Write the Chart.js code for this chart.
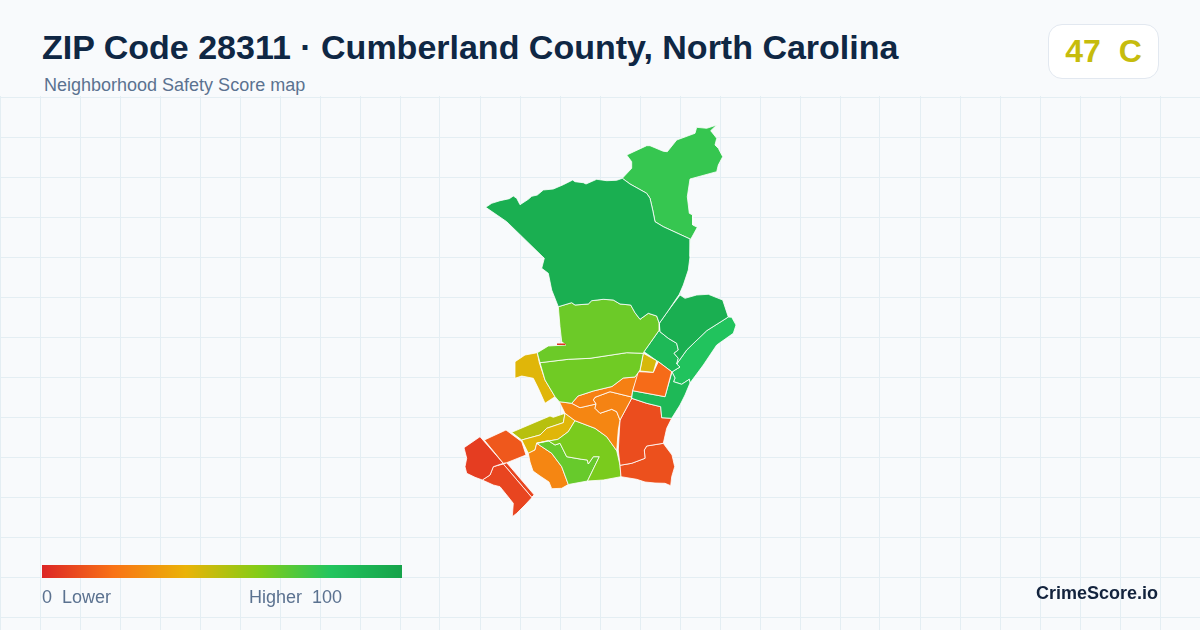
<!DOCTYPE html>
<html>
<head>
<meta charset="utf-8">
<title>ZIP Code 28311</title>
<script src="https://cdn.jsdelivr.net/npm/chart.js@4"></script>
<style>
    body { margin: 0; background: #f8fafc; font-family: "Liberation Sans", Arial, sans-serif; }
    #wrap { position: relative; width: 1200px; height: 630px; overflow: hidden; }
    #map { position: absolute; left: 0; top: 0; }
    #head { position: absolute; left: 0; top: 0; width: 1200px; height: 96px; background: #f8fafc; }
    #title { position: absolute; left: 42px; top: 27px; font-size: 34px; line-height: 40px; font-weight: 700; color: #0f2744; white-space: nowrap; }
    #subtitle { position: absolute; left: 44px; top: 75px; font-size: 18px; line-height: 20px; color: #5b7290; white-space: nowrap; }
    #badge { position: absolute; left: 1048px; top: 24px; width: 109px; height: 53px; box-sizing: content-box; background: #fff; border: 1px solid #e2e8f0; border-radius: 14px; text-align: center; font-size: 32px; line-height: 53px; font-weight: 700; color: #c6bc0d; white-space: pre; }
    #ramp { position: absolute; left: 42px; top: 565px; width: 360px; height: 13px; }
    .rampLabel { position: absolute; top: 587px; font-size: 18px; line-height: 20px; color: #5b7290; white-space: pre; }
    #brand { position: absolute; right: 42px; top: 583px; font-size: 18px; line-height: 20px; font-weight: 700; color: #13233d; }
</style>
</head>
<body>
<div id="wrap">
    <canvas id="map" width="1200" height="630"></canvas>
    <div id="head">
        <div id="title">ZIP Code 28311 · Cumberland County, North Carolina</div>
        <div id="subtitle">Neighborhood Safety Score map</div>
        <div id="badge">47  C</div>
    </div>
    <div id="ramp"></div>
    <div class="rampLabel" style="left:42px">0  Lower</div>
    <div class="rampLabel" style="left:249px">Higher  100</div>
    <div id="brand">CrimeScore.io</div>
</div>
<script>
// score ramp
const rampStops = [0, 20, 40, 60, 80, 100];
const rampColors = [[220, 38, 38], [249, 115, 22], [234, 179, 8], [132, 204, 22], [34, 197, 94], [22, 163, 74]];

// neighborhood outlines (x east, y south)
const sliver = [[557,343.6],[565.5,343.4],[565.5,345],[557,345]];
const north = [[485.7,207.3],[491.7,203.3],[500,200.7],[509.3,198.7],[513.3,196],[516.7,198.3],[520,204.7],[528.3,199.3],[531.7,196.3],[537.3,195],[543.3,190],[553.3,189],[563.3,184.7],[572.7,180],[575,181.7],[583.3,182.7],[586,184],[596.7,179.3],[606.7,180.7],[616.7,180.3],[622.3,178.3],[630,184],[646.7,193.3],[650,198.3],[652.7,210],[655,221.7],[663.3,226.7],[690.7,239.3],[690,256.7],[688.3,270],[683.3,285],[679.3,294.3],[668,311],[659.3,323.3],[656.7,316],[648.3,313.3],[640,319.3],[635,312.7],[630.7,305],[620,304],[613.3,300],[603.3,299.3],[591.7,300.7],[588.3,304],[575,305],[571.7,302.7],[558.3,306.7],[551.7,290],[548.3,273.3],[541.7,268.3],[544.3,258.3],[506.7,221.7]];
const northEast = [[622.3,178.3],[631.7,168.3],[631.7,161.7],[626.7,155],[646.7,145.7],[650,145.7],[663.3,151.3],[667.3,151.7],[676.7,140],[695,133.3],[696.7,127.3],[706.7,128.3],[716.7,125],[710.7,130.7],[716.7,138.3],[715,145],[718.3,148.3],[722.7,156.7],[718.3,165],[716.7,171.7],[690,179],[687.3,196.7],[689.3,213.3],[692.7,215],[692.7,225],[697.3,227.3],[690.7,239.3],[663.3,226.7],[655,221.7],[652.7,210],[650,198.3],[646.7,193.3],[630,184]];
const midNorth = [[558.3,306.7],[571.7,302.7],[575,305],[588.3,304],[591.7,300.7],[603.3,299.3],[613.3,300],[620,304],[630.7,305],[635,312.7],[640,319.3],[648.3,313.3],[656.7,316],[659.3,323.3],[659.3,330],[644,351.7],[643.3,353.3],[626.7,352.7],[590,358.3],[568.3,359.3],[540,362.7],[537.3,352.7],[548.3,346],[566,345],[561.7,341.7],[560,326.7]];
const midSouth = [[540,362.7],[568.3,359.3],[590,358.3],[626.7,352.7],[643.3,353.3],[640,370],[635,377],[623.3,378],[612,386.5],[593.3,391],[578,396],[571.7,403.3],[559.3,401.7],[555,396.7],[545,380]];
const westArm = [[537.3,352.7],[539.3,362.7],[545,380],[555,396.7],[545,403.3],[538.3,388.3],[533.3,378.3],[521.7,376],[515,378.3],[515,361.7],[525,355]];
const smallYellow = [[643.3,353.3],[656.7,360.7],[653.3,372.3],[640,371]];
const centerEast = [[658.3,361.7],[671.7,371.7],[665,396.7],[632.7,390.7],[638.3,371.7],[653.3,372.3]];
const eastUpper = [[680,295],[685,298.3],[696.7,295],[708.3,294.3],[722.7,300],[728.3,317],[706.7,330.7],[686.7,350],[676.7,364],[678.3,358.3],[674,353.3],[678.3,350],[676.7,343.3],[668.3,338.3],[660,331.7],[659.3,323.3],[668,311]];
const eastInner = [[644,351.7],[659.3,330],[660,331.7],[668.3,338.3],[676.7,343.3],[678.3,350],[674,353.3],[678.3,358.3],[676.7,364],[680,367],[675,370],[672,372],[658.3,361.7],[656.7,360.7]];
const eastLower = [[672,372],[675,378],[673.5,381.7],[681.7,384.3],[689.3,379.3],[690,383],[685,395],[680,405],[671.7,418.3],[661.7,417.7],[660.7,406.7],[646.7,403.3],[631.7,398.3],[632.7,390.7],[665,396.7]];
const coast = [[728.3,317],[731.7,317.3],[736,325],[733.3,333.3],[716.7,345],[703.3,365],[690,383],[689.3,379.3],[681.7,384.3],[673.5,381.7],[675,378],[672,372],[675,370],[680,367],[676.7,364],[686.7,350],[706.7,330.7]];
const orangeTop = [[571.7,403.3],[578,396],[593.3,391],[612,386.5],[623.3,378],[635,377],[640,370],[632.7,390.7],[631.7,397],[610,391.7],[595,397.3],[593.3,400],[596,404],[580,407.7]];
const orangeMid = [[595,397.3],[610,391.7],[631.7,397],[631.7,398.3],[620,420],[616.7,411.7],[611.7,409.3],[600,413.3],[595,408.3],[596,404],[593.3,400]];
const orangeBig = [[559.3,401.7],[571.7,403.3],[580,407.7],[596,404],[595,408.3],[600,413.3],[611.7,409.3],[616.7,411.7],[620,420],[618.3,430],[616.7,450.7],[606.7,436.7],[595,428.3],[575,420.7],[568.3,415.7],[565,413.3]];
const southEast = [[631.7,398.3],[646.7,403.3],[660.7,406.7],[661.7,417.7],[671.7,418.3],[666.7,428.3],[663.3,443.3],[646.7,446],[644.3,450],[645,458.3],[631.7,463.3],[620,465.3],[618.3,450],[620,420]];
const southEast2 = [[663.3,443.3],[646.7,446],[644.3,450],[645,458.3],[631.7,463.3],[620,465.3],[621,476.7],[636.7,479.3],[645,482],[655,483],[665,483.3],[670.7,485.7],[671.7,476.7],[674.7,466.7],[672,455],[666,447]];
const south = [[575,420.7],[595,428.3],[606.7,436.7],[616.7,450.7],[620,465.3],[621,476.7],[603.3,480],[587.5,481],[599.3,456.7],[593.3,456.7],[588.3,464],[587.3,460],[581.7,459.3],[566.7,456.7],[560,443.3],[555,445],[548.3,440.7],[536.7,443.3],[558,439.3],[568.3,431.7]];
const southInner = [[536.7,443.3],[548.3,440.7],[555,445],[560,443.3],[566.7,456.7],[581.7,459.3],[587.3,460],[588.3,464],[593.3,456.7],[599.3,456.7],[587.5,481],[568.3,484.5],[561.7,466.7],[551.7,453.3]];
const southOrange = [[536.7,443.3],[551.7,453.3],[561.7,466.7],[568.3,484.5],[561.7,488.3],[551.7,488.7],[549,482],[540,476],[533,471],[530,462],[528.3,453.3],[535,450]];
const yellowBelt = [[565,413.3],[568.3,415.7],[575,420.7],[568.3,431.7],[558,439.3],[536.7,443.3],[535,450],[528.3,453.3],[526.7,450],[521.7,440],[540,435],[546.7,428.3],[563.3,422.7]];
const oliveBelt = [[511.7,432.3],[550,416],[553.3,417.3],[565,413.3],[563.3,422.7],[546.7,428.3],[540,435],[521.7,440]];
const westOrange = [[484.3,440],[506,430],[521.7,441.7],[526,455],[506.7,462.7],[503.3,463.3]];
const westRed = [[464,447.7],[480,436.7],[503.3,463.3],[493.3,466.7],[490,475],[482.3,480],[475,477.3],[466.7,473.3],[465,466.7],[466.7,458.3]];
const southWest = [[482.3,480],[490,475],[493.3,466.7],[503.3,464],[531.7,497.3],[534.3,495],[525,505],[516.7,513.3],[512.3,516.7],[513.3,503.3],[506.7,495],[500,486.7],[493.3,485]];
const strip = [[506.7,462.7],[534.3,495],[531.7,497.3],[503.3,464]];

const outlines = [sliver, north, northEast, midNorth, midSouth, westArm, smallYellow, centerEast, eastUpper, eastInner, eastLower, coast, orangeTop, orangeMid, orangeBig, southEast, southEast2, south, southInner, southOrange, yellowBelt, oliveBelt, westOrange, westRed, southWest, strip];
const scores = [4, 93, 76, 65, 64, 42, 44, 18, 93, 87, 87, 81, 24, 25, 26, 10, 11, 62, 66, 26, 42, 50, 13, 6, 8, 8];

// background grid
const gridColumns = [0, 40, 80, 120, 160, 200, 240, 280, 320, 360, 400, 440, 480, 520, 560, 600, 640, 680, 720, 760, 800, 840, 880, 920, 960, 1000, 1040, 1080, 1120, 1160, 1200];
const gridRows = [97, 137, 177, 217, 257, 297, 337, 377, 417, 457, 497, 537, 577, 617];

function scoreColor(score) {
    let i = 0;
    while (i < rampStops.length - 2 && score > rampStops[i + 1]) i++;
    const t = (score - rampStops[i]) / (rampStops[i + 1] - rampStops[i]);
    const c = rampColors[i].map((v, k) => Math.round(v + (rampColors[i + 1][k] - v) * t));
    return `rgb(${c[0]}, ${c[1]}, ${c[2]})`;
}

document.getElementById('ramp').style.background = 'linear-gradient(to right, ' +
    rampStops.map((s, i) => `rgb(${rampColors[i].join(',')}) ${s}%`).join(', ') + ')';

const gridLine = { color: '#e4eef3', lineWidth: 1, drawTicks: false };

new Chart(document.getElementById('map'), {
    type: 'scatter',
    data: {
        datasets: outlines.map((outline, i) => ({
            data: outline.concat([outline[0]]).map(p => ({ x: p[0], y: p[1] })),
            showLine: true,
            fill: 'shape',
            backgroundColor: scoreColor(scores[i]),
            borderColor: '#ffffff',
            // the sliver is too thin to carry the white edge
            borderWidth: outline === sliver ? 0 : 0.8,
            pointRadius: 0,
            tension: 0
        }))
    },
    options: {
        responsive: false,
        animation: false,
        devicePixelRatio: 1,
        layout: { padding: 0 },
        plugins: { legend: { display: false }, tooltip: { enabled: false } },
        scales: {
            x: {
                type: 'linear', min: 0, max: 1200,
                afterBuildTicks: axis => { axis.ticks = gridColumns.map(value => ({ value })); },
                ticks: { display: false },
                border: { display: false },
                grid: gridLine
            },
            y: {
                type: 'linear', min: 0, max: 630, reverse: true,
                afterBuildTicks: axis => { axis.ticks = gridRows.map(value => ({ value })); },
                ticks: { display: false },
                border: { display: false },
                grid: gridLine
            }
        }
    }
});
</script>
</body>
</html>
